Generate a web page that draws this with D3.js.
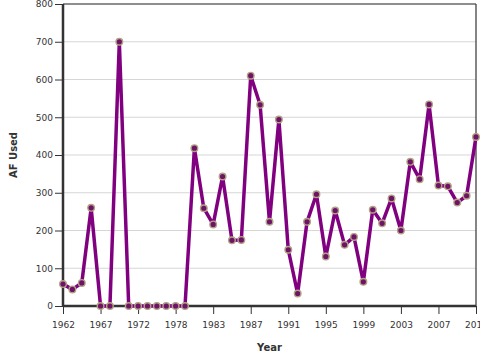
<!DOCTYPE html>
<html>
<head>
<meta charset="utf-8">
<script src="https://cdn.jsdelivr.net/npm/d3@7"></script>
<style>
  html, body { margin: 0; padding: 0; background: #fff; overflow: hidden; }
  svg { display: block; font-family: "DejaVu Sans", Verdana, sans-serif; }
</style>
</head>
<body>
<svg id="chart" width="480" height="360"></svg>
<script>
const years = [1962, 1963, 1964, 1965, 1967, 1968, 1969, 1970, 1972, 1973, 1974, 1975, 1978, 1979, 1980, 1981,
  1983, 1984, 1985, 1986, 1987, 1988, 1989, 1990, 1991, 1992, 1993, 1994, 1995, 1996, 1997, 1998,
  1999, 2000, 2001, 2002, 2003, 2004, 2005, 2006, 2007, 2008, 2009, 2010, 2011];
const afUsed = [58, 44, 61, 260, 0, 0, 700, 0, 0, 0, 0, 0, 0, 0, 418, 259,
  216, 343, 174, 175, 610, 533, 223, 494, 149, 33, 223, 296, 131, 253, 162, 183,
  64, 255, 219, 285, 200, 382, 336, 534, 319, 317, 274, 292, 448];
const xTickYears = [1962, 1967, 1972, 1978, 1983, 1987, 1991, 1995, 1999, 2003, 2007, 2011];
const yTicks = [0, 100, 200, 300, 400, 500, 600, 700, 800];

const margin = { left: 63, right: 4, top: 4, bottom: 54 };
const W = 480, H = 360;
const svg = d3.select("#chart");

const x = d3.scalePoint().domain(years).range([margin.left, W - margin.right]);
const y = d3.scaleLinear().domain([0, 800]).range([H - margin.bottom, margin.top]);

// gridlines
svg.append("g").selectAll("line").data(yTicks).join("line")
  .attr("x1", margin.left).attr("x2", W - margin.right)
  .attr("y1", d => y(d)).attr("y2", d => y(d))
  .attr("stroke", "#d6d6d6").attr("stroke-width", 1);

// top & right border
svg.append("line").attr("x1", margin.left).attr("x2", W - margin.right)
  .attr("y1", y(800)).attr("y2", y(800)).attr("stroke", "#333").attr("stroke-width", 1.2);
svg.append("line").attr("x1", W - margin.right).attr("x2", W - margin.right)
  .attr("y1", y(800)).attr("y2", y(0)).attr("stroke", "#333").attr("stroke-width", 1.2);

// axes
const xAxis = d3.axisBottom(x).tickValues(xTickYears).tickFormat(d3.format("d")).tickSize(8).tickPadding(8);
const yAxis = d3.axisLeft(y).tickValues(yTicks).tickSize(8).tickPadding(2);

const gx = svg.append("g").attr("transform", `translate(0,${y(0)})`).call(xAxis);
const gy = svg.append("g").attr("transform", `translate(${margin.left},0)`).call(yAxis);
[gx, gy].forEach(g => {
  g.select(".domain").attr("stroke", "#333").attr("stroke-width", 2.5);
  g.selectAll(".tick line").attr("stroke", "#333").attr("stroke-width", 1);
  g.selectAll(".tick text").attr("fill", "#333").style("font-size", "9px")
    .style("font-family", "'DejaVu Sans', Verdana, sans-serif");
});
gx.select(".domain").attr("d", `M${margin.left},0H${W - margin.right}`);
gy.select(".domain").attr("d", `M0,${y(800)}V${y(0)}`);

// line
const data = years.map((yr, i) => ({ yr, v: afUsed[i] }));
svg.append("path").datum(data)
  .attr("fill", "none").attr("stroke", "#800080").attr("stroke-width", 3.5)
  .attr("stroke-linejoin", "round")
  .attr("d", d3.line().x(d => x(d.yr)).y(d => y(d.v)));

svg.append("g").selectAll("circle").data(data).join("circle")
  .attr("cx", d => x(d.yr)).attr("cy", d => y(d.v)).attr("r", 3.3)
  .attr("fill", "#6e1466").attr("stroke", "#b3a286").attr("stroke-width", 1.4);

// axis titles
svg.append("text").attr("x", (margin.left + W - margin.right) / 2).attr("y", 351)
  .attr("text-anchor", "middle").attr("fill", "#333")
  .style("font-size", "10px").style("font-weight", "bold").text("Year");
svg.append("text").attr("transform", `translate(17,${(y(0) + y(800)) / 2}) rotate(-90)`)
  .attr("text-anchor", "middle").attr("fill", "#333")
  .style("font-size", "10px").style("font-weight", "bold").text("AF Used");
</script>
</body>
</html>
